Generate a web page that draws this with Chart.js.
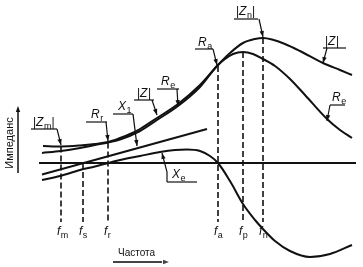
<!DOCTYPE html>
<html><head><meta charset="utf-8">
<script src="https://cdn.jsdelivr.net/npm/chart.js@4"></script>
<style>html,body{margin:0;padding:0;background:#fff}#wrap{width:363px;height:267px;position:relative}</style>
</head><body><div id="wrap"><canvas id="c"></canvas></div>
<script>
// Frequency (relative units) and impedance (relative units, 0 = reactance zero line)
const freqAbsZ = [43, 61, 80, 95, 108, 120, 130, 140, 157, 178, 200, 217, 230, 243, 255, 263, 272, 285, 300, 323, 340, 352];
const absZ     = [17, 16.5, 17.5, 19, 21, 25, 29, 34, 45, 59, 78, 97, 110, 120, 124, 125, 123.5, 119, 112, 100, 93, 88];

const freqRe = [42, 61, 80, 95, 108, 120, 140, 157, 178, 200, 217, 225, 233, 243, 253, 263, 275, 290, 305, 327, 340, 352];
const resEff = [10, 12, 15, 18, 20.5, 23.5, 32, 43, 57, 76, 97, 104, 109, 111, 109, 104, 97, 84, 68, 44, 33, 25];

const freqXe  = [42, 60, 80, 95, 108, 120, 140, 160, 175, 187, 200, 210, 218, 230, 243, 255, 263, 275, 290, 310, 330, 352];
const reactXe = [-17, -13, -7, -3.5, 0, 3, 7, 11, 13, 13.5, 12, 7, 0, -18, -41, -57, -66, -78, -88, -94, -91, -82];

const freqX1  = [42, 207];
const reactX1 = [-11.5, 34];

const axisFreq = [39, 356];
const axisValue = [0, 0];

const markerSubs   = ['m', 's', 'r', 'a', 'p', 'n'];
const markerFreq   = [61, 83, 108, 218, 243, 263];
const markerTop    = [16.5, 0, 20.5, 97, 111, 125];
const markerBottom = -59;

const yLabel = 'Импеданс';
const xLabel = 'Частота';

function pts(xs, ys) { return xs.map((x, i) => ({x: x, y: ys[i]})); }

const INK = '#111';
const datasets = [
  {data: pts(axisFreq, axisValue), borderColor: INK, borderWidth: 2, tension: 0},
  {data: pts(freqAbsZ, absZ), borderColor: INK, borderWidth: 2, cubicInterpolationMode: 'monotone'},
  {data: pts(freqRe, resEff), borderColor: INK, borderWidth: 2, cubicInterpolationMode: 'monotone'},
  {data: pts(freqXe, reactXe), borderColor: INK, borderWidth: 2, cubicInterpolationMode: 'monotone'},
  {data: pts(freqX1, reactX1), borderColor: INK, borderWidth: 2, tension: 0}
];
markerFreq.forEach((f, i) => {
  datasets.push({data: [{x: f, y: markerTop[i]}, {x: f, y: markerBottom}], borderColor: INK, borderWidth: 1.6, borderDash: [6, 3], tension: 0});
});

function drawParts(ctx, x, y, parts) {
  let cx = x;
  parts.forEach(p => {
    const [t, s] = p;
    let yy = y;
    if (s === 'i') ctx.font = 'italic 12px "Liberation Sans"';
    else if (s === 's') { ctx.font = '9px "Liberation Sans"'; yy = y + 3; }
    else ctx.font = '12px "Liberation Sans"';
    ctx.fillText(t, cx, yy);
    cx += ctx.measureText(t).width + (s === 'i' ? 0.5 : 0);
  });
}
function arrowHead(ctx, x0, y0, x1, y1) {
  const a = Math.atan2(y1 - y0, x1 - x0), L = 6, W = 2.2;
  ctx.beginPath();
  ctx.moveTo(x1, y1);
  ctx.lineTo(x1 - L * Math.cos(a) + W * Math.sin(a), y1 - L * Math.sin(a) - W * Math.cos(a));
  ctx.lineTo(x1 - L * Math.cos(a) - W * Math.sin(a), y1 - L * Math.sin(a) + W * Math.cos(a));
  ctx.closePath(); ctx.fill();
}
// label: parts, text x, baseline y, underline [x1,x2,y], leader path (last point = arrow tip)
const callouts = [
  {parts: [['|', 'n'], ['Z', 'i'], ['n', 's'], ['|', 'n']], x: 236, y: 15, u: [234, 258, 19], path: [[259, 19], [263, 37]]},
  {parts: [['R', 'i'], ['a', 's']], x: 198, y: 46, u: [195, 213, 49], path: [[213, 49], [217, 65]]},
  {parts: [['|', 'n'], ['Z', 'i'], ['|', 'n']], x: 325, y: 45, u: [323, 346, 48], path: [[327, 48], [323, 63]]},
  {parts: [['R', 'i'], ['e', 's']], x: 332, y: 101, u: [330, 345, 105], path: [[330, 105], [327, 121]]},
  {parts: [['R', 'i'], ['e', 's']], x: 161, y: 85, u: [157, 179, 89], path: [[177, 89], [178, 106]]},
  {parts: [['|', 'n'], ['Z', 'i'], ['|', 'n']], x: 137, y: 97, u: [134, 154, 100], path: [[152, 100], [157, 115]]},
  {parts: [['X', 'i'], ['1', 's']], x: 118, y: 110, u: [113, 133, 114], path: [[133, 114], [137, 146]]},
  {parts: [['R', 'i'], ['r', 's']], x: 91, y: 118, u: [86, 107, 122], path: [[106, 122], [108, 141]]},
  {parts: [['|', 'n'], ['Z', 'i'], ['m', 's'], ['|', 'n']], x: 33, y: 126, u: [31, 57, 129], path: [[57, 129], [61, 145]]},
  {parts: [['X', 'i'], ['e', 's']], x: 172, y: 178, u: [167, 197, 182], path: [[167, 182], [167, 172], [162, 153]]}
];

const annot = {
  id: 'annot',
  afterDatasetsDraw(chart) {
    const ctx = chart.ctx, xs = chart.scales.x;
    ctx.save();
    ctx.fillStyle = INK; ctx.strokeStyle = INK; ctx.lineWidth = 1.2;
    ctx.textBaseline = 'alphabetic'; ctx.textAlign = 'left';
    callouts.forEach(c => {
      drawParts(ctx, c.x, c.y, c.parts);
      ctx.beginPath(); ctx.moveTo(c.u[0], c.u[2]); ctx.lineTo(c.u[1], c.u[2]); ctx.stroke();
      ctx.beginPath(); ctx.moveTo(c.path[0][0], c.path[0][1]);
      for (let i = 1; i < c.path.length; i++) ctx.lineTo(c.path[i][0], c.path[i][1]);
      ctx.stroke();
      const n = c.path.length;
      arrowHead(ctx, c.path[n - 2][0], c.path[n - 2][1], c.path[n - 1][0], c.path[n - 1][1]);
    });
    // frequency labels
    markerFreq.forEach((f, i) => {
      const px = xs.getPixelForValue(f);
      drawParts(ctx, px - 4, 235, [['f', 'i'], [markerSubs[i], 's']]);
    });
    // y axis label + arrow
    ctx.save();
    ctx.translate(13, 143); ctx.rotate(-Math.PI / 2);
    ctx.font = '11px "Liberation Sans"'; ctx.textAlign = 'center';
    ctx.fillText(yLabel, 0, 0);
    ctx.restore();
    ctx.lineWidth = 1.5;
    ctx.beginPath(); ctx.moveTo(18, 173); ctx.lineTo(18, 112); ctx.stroke();
    arrowHead(ctx, 18, 130, 18, 106);
    // x axis label + arrow
    ctx.font = '10px "Liberation Sans"'; ctx.textAlign = 'left';
    ctx.fillText(xLabel, 118, 256);
    ctx.strokeStyle = '#444'; ctx.fillStyle = '#444'; ctx.lineWidth = 2;
    ctx.beginPath(); ctx.moveTo(113, 262); ctx.lineTo(162, 262); ctx.stroke();
    arrowHead(ctx, 140, 262, 169, 262);
    ctx.restore();
  }
};

new Chart(document.getElementById('c'), {
  type: 'line',
  data: {datasets: datasets},
  options: {
    responsive: true, maintainAspectRatio: false, animation: false, devicePixelRatio: 1,
    layout: {padding: 0},
    elements: {point: {radius: 0}, line: {borderCapStyle: 'butt'}},
    plugins: {legend: {display: false}, tooltip: {enabled: false}},
    scales: {
      x: {type: 'linear', display: false, min: 0, max: 363},
      y: {type: 'linear', display: false, min: -104, max: 163}
    }
  },
  plugins: [annot]
});
</script></body></html>
